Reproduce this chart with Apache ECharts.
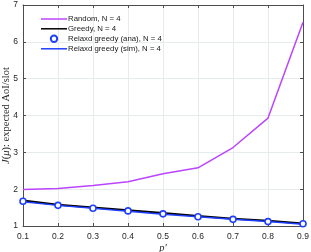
<!DOCTYPE html>
<html><head><meta charset="utf-8">
<script src="https://cdn.jsdelivr.net/npm/echarts@6/dist/echarts.min.js"></script>
<style>html,body{margin:0;padding:0;background:#fff}#c{width:311px;height:252px}</style>
</head><body><div id="c"></div>
<script>
var pValues = [0.1, 0.2, 0.3, 0.4, 0.5, 0.6, 0.7, 0.8, 0.9];
var randomVals = [1.99, 2.02, 2.10, 2.20, 2.42, 2.58, 3.13, 3.93, 6.53];
var greedyVals = [1.69, 1.58, 1.50, 1.43, 1.35, 1.27, 1.20, 1.14, 1.07];
var relaxAnaVals = [1.67, 1.56, 1.48, 1.41, 1.33, 1.25, 1.18, 1.12, 1.06];
var relaxSimVals = [1.66, 1.56, 1.48, 1.40, 1.32, 1.25, 1.18, 1.12, 1.05];
var xTicks = [0.1, 0.2, 0.3, 0.4, 0.5, 0.6, 0.7, 0.8, 0.9];
var yTicks = [1, 2, 3, 4, 5, 6, 7];
var seriesNames = ['Random, N = 4', 'Greedy, N = 4', 'Relaxd greedy (ana), N = 4', 'Relaxd greedy (sim), N = 4'];

function pairs(vals){ return pValues.map(function(p,i){ return [p, vals[i]]; }); }

var axisCol = '#4d4d4d';
var txtCol = '#262626';
var chart = echarts.init(document.getElementById('c'), null, {renderer:'canvas'});
var xBase = {
  type:'value', min:0.1, max:0.9, interval:0.1,
  axisLine:{show:true, lineStyle:{color:axisCol, width:1}},
  axisTick:{show:true, inside:true, length:3, lineStyle:{color:axisCol}},
  splitLine:{show:false}
};
var yBase = {
  type:'value', min:1, max:7, interval:1,
  axisLine:{show:true, lineStyle:{color:axisCol, width:1}},
  axisTick:{show:true, inside:true, length:3, lineStyle:{color:axisCol}},
  splitLine:{show:false}
};
chart.setOption({
  animation:false,
  grid:{left:23, right:8, top:5, bottom:26, containLabel:false, outerBoundsMode:'none'},
  xAxis:[
    Object.assign({}, xBase, {position:'bottom',
      axisLabel:{color:txtCol, fontSize:8.5, fontFamily:'Liberation Sans', margin:6,
        formatter:function(v){ return v.toFixed(1); }},
      splitLine:{show:true, lineStyle:{color:'#e6ebeb', width:1}},
      name:'p\u2032', nameLocation:'middle', nameGap:17, nameMoveOverlap:false,
      nameTextStyle:{color:txtCol, fontSize:10.5, fontFamily:'Liberation Serif', fontStyle:'italic'}
    }),
    Object.assign({}, xBase, {position:'top', axisLabel:{show:false}})
  ],
  yAxis:[
    Object.assign({}, yBase, {position:'left',
      axisLabel:{color:txtCol, fontSize:8.5, fontFamily:'Liberation Sans', margin:5},
      splitLine:{show:true, lineStyle:{color:'#e6ebeb', width:1}},
      name:'{i|J}({i|\u03bc}): expected AoI/slot', nameLocation:'middle', nameGap:11, nameRotate:90,
      nameMoveOverlap:false,
      nameTextStyle:{color:txtCol, fontSize:10.5, fontFamily:'Liberation Serif',
        rich:{i:{fontStyle:'italic', fontSize:10.5, fontFamily:'Liberation Serif', color:txtCol}}}
    }),
    Object.assign({}, yBase, {position:'right', axisLabel:{show:false}})
  ],
  legend:{
    orient:'vertical', left:36, top:10, itemWidth:26, itemHeight:8, itemGap:1.8,
    textStyle:{color:'#1a1a1a', fontSize:7.8, fontFamily:'Liberation Sans', padding:[0,0,0,-4]},
    data:[
      {name:seriesNames[0], icon:'path://M0,0L26,0L26,1.5L0,1.5Z', itemStyle:{color:'#bb44ff'}},
      {name:seriesNames[1], icon:'path://M0,0L26,0L26,1.5L0,1.5Z', itemStyle:{color:'#000000'}},
      {name:seriesNames[2]},
      {name:seriesNames[3], icon:'path://M0,0L26,0L26,1.5L0,1.5Z', itemStyle:{color:'#1f3fff'}}
    ]
  },
  series:[
    {name:seriesNames[0], type:'line', data:pairs(randomVals), symbol:'none',
      lineStyle:{color:'#bb44ff', width:1.5}, itemStyle:{color:'#bb44ff'}, z:3},
    {name:seriesNames[1], type:'line', data:pairs(greedyVals), symbol:'none',
      lineStyle:{color:'#000000', width:2}, itemStyle:{color:'#000000'}, z:2},
    {name:seriesNames[2], type:'line', data:pairs(relaxAnaVals), symbol:'circle', symbolSize:6,
      showSymbol:true,
      lineStyle:{width:0, opacity:0},
      itemStyle:{color:'#ffffff', borderColor:'#1f3fff', borderWidth:1.6}, z:5},
    {name:seriesNames[3], type:'line', data:pairs(relaxSimVals), symbol:'none',
      lineStyle:{color:'#1f3fff', width:1.5}, itemStyle:{color:'#1f3fff'}, z:4}
  ]
});
</script></body></html>
